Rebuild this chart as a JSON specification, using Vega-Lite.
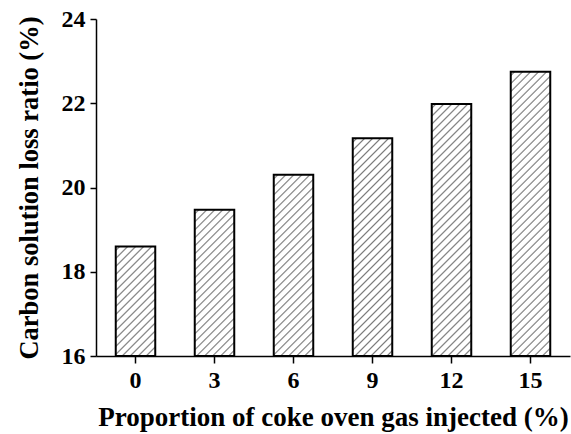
{
  "$schema": "https://vega.github.io/schema/vega-lite/v6.json",
  "autosize": "none",
  "width": 474,
  "height": 337,
  "padding": {"left": 96, "top": 19, "right": 1, "bottom": 78},
  "background": "white",
  "params": [
    {"name": "hatch", "value": [
      {"offset":0,"color":"#fff"},
      {"offset":0.006,"color":"#fff"},{"offset":0.01,"color":"#7a7a7a"},{"offset":0.014,"color":"#fff"},
      {"offset":0.026,"color":"#fff"},{"offset":0.03,"color":"#7a7a7a"},{"offset":0.034,"color":"#fff"},
      {"offset":0.046,"color":"#fff"},{"offset":0.05,"color":"#7a7a7a"},{"offset":0.054,"color":"#fff"},
      {"offset":0.066,"color":"#fff"},{"offset":0.07,"color":"#7a7a7a"},{"offset":0.074,"color":"#fff"},
      {"offset":0.086,"color":"#fff"},{"offset":0.09,"color":"#7a7a7a"},{"offset":0.094,"color":"#fff"},
      {"offset":0.106,"color":"#fff"},{"offset":0.11,"color":"#7a7a7a"},{"offset":0.114,"color":"#fff"},
      {"offset":0.126,"color":"#fff"},{"offset":0.13,"color":"#7a7a7a"},{"offset":0.134,"color":"#fff"},
      {"offset":0.146,"color":"#fff"},{"offset":0.15,"color":"#7a7a7a"},{"offset":0.154,"color":"#fff"},
      {"offset":0.166,"color":"#fff"},{"offset":0.17,"color":"#7a7a7a"},{"offset":0.174,"color":"#fff"},
      {"offset":0.186,"color":"#fff"},{"offset":0.19,"color":"#7a7a7a"},{"offset":0.194,"color":"#fff"},
      {"offset":0.206,"color":"#fff"},{"offset":0.21,"color":"#7a7a7a"},{"offset":0.214,"color":"#fff"},
      {"offset":0.226,"color":"#fff"},{"offset":0.23,"color":"#7a7a7a"},{"offset":0.234,"color":"#fff"},
      {"offset":0.246,"color":"#fff"},{"offset":0.25,"color":"#7a7a7a"},{"offset":0.254,"color":"#fff"},
      {"offset":0.266,"color":"#fff"},{"offset":0.27,"color":"#7a7a7a"},{"offset":0.274,"color":"#fff"},
      {"offset":0.286,"color":"#fff"},{"offset":0.29,"color":"#7a7a7a"},{"offset":0.294,"color":"#fff"},
      {"offset":0.306,"color":"#fff"},{"offset":0.31,"color":"#7a7a7a"},{"offset":0.314,"color":"#fff"},
      {"offset":0.326,"color":"#fff"},{"offset":0.33,"color":"#7a7a7a"},{"offset":0.334,"color":"#fff"},
      {"offset":0.346,"color":"#fff"},{"offset":0.35,"color":"#7a7a7a"},{"offset":0.354,"color":"#fff"},
      {"offset":0.366,"color":"#fff"},{"offset":0.37,"color":"#7a7a7a"},{"offset":0.374,"color":"#fff"},
      {"offset":0.386,"color":"#fff"},{"offset":0.39,"color":"#7a7a7a"},{"offset":0.394,"color":"#fff"},
      {"offset":0.406,"color":"#fff"},{"offset":0.41,"color":"#7a7a7a"},{"offset":0.414,"color":"#fff"},
      {"offset":0.426,"color":"#fff"},{"offset":0.43,"color":"#7a7a7a"},{"offset":0.434,"color":"#fff"},
      {"offset":0.446,"color":"#fff"},{"offset":0.45,"color":"#7a7a7a"},{"offset":0.454,"color":"#fff"},
      {"offset":0.466,"color":"#fff"},{"offset":0.47,"color":"#7a7a7a"},{"offset":0.474,"color":"#fff"},
      {"offset":0.486,"color":"#fff"},{"offset":0.49,"color":"#7a7a7a"},{"offset":0.494,"color":"#fff"},
      {"offset":0.506,"color":"#fff"},{"offset":0.51,"color":"#7a7a7a"},{"offset":0.514,"color":"#fff"},
      {"offset":0.526,"color":"#fff"},{"offset":0.53,"color":"#7a7a7a"},{"offset":0.534,"color":"#fff"},
      {"offset":0.546,"color":"#fff"},{"offset":0.55,"color":"#7a7a7a"},{"offset":0.554,"color":"#fff"},
      {"offset":0.566,"color":"#fff"},{"offset":0.57,"color":"#7a7a7a"},{"offset":0.574,"color":"#fff"},
      {"offset":0.586,"color":"#fff"},{"offset":0.59,"color":"#7a7a7a"},{"offset":0.594,"color":"#fff"},
      {"offset":0.606,"color":"#fff"},{"offset":0.61,"color":"#7a7a7a"},{"offset":0.614,"color":"#fff"},
      {"offset":0.626,"color":"#fff"},{"offset":0.63,"color":"#7a7a7a"},{"offset":0.634,"color":"#fff"},
      {"offset":0.646,"color":"#fff"},{"offset":0.65,"color":"#7a7a7a"},{"offset":0.654,"color":"#fff"},
      {"offset":0.666,"color":"#fff"},{"offset":0.67,"color":"#7a7a7a"},{"offset":0.674,"color":"#fff"},
      {"offset":0.686,"color":"#fff"},{"offset":0.69,"color":"#7a7a7a"},{"offset":0.694,"color":"#fff"},
      {"offset":0.706,"color":"#fff"},{"offset":0.71,"color":"#7a7a7a"},{"offset":0.714,"color":"#fff"},
      {"offset":0.726,"color":"#fff"},{"offset":0.73,"color":"#7a7a7a"},{"offset":0.734,"color":"#fff"},
      {"offset":0.746,"color":"#fff"},{"offset":0.75,"color":"#7a7a7a"},{"offset":0.754,"color":"#fff"},
      {"offset":0.766,"color":"#fff"},{"offset":0.77,"color":"#7a7a7a"},{"offset":0.774,"color":"#fff"},
      {"offset":0.786,"color":"#fff"},{"offset":0.79,"color":"#7a7a7a"},{"offset":0.794,"color":"#fff"},
      {"offset":0.806,"color":"#fff"},{"offset":0.81,"color":"#7a7a7a"},{"offset":0.814,"color":"#fff"},
      {"offset":0.826,"color":"#fff"},{"offset":0.83,"color":"#7a7a7a"},{"offset":0.834,"color":"#fff"},
      {"offset":0.846,"color":"#fff"},{"offset":0.85,"color":"#7a7a7a"},{"offset":0.854,"color":"#fff"},
      {"offset":0.866,"color":"#fff"},{"offset":0.87,"color":"#7a7a7a"},{"offset":0.874,"color":"#fff"},
      {"offset":0.886,"color":"#fff"},{"offset":0.89,"color":"#7a7a7a"},{"offset":0.894,"color":"#fff"},
      {"offset":0.906,"color":"#fff"},{"offset":0.91,"color":"#7a7a7a"},{"offset":0.914,"color":"#fff"},
      {"offset":0.926,"color":"#fff"},{"offset":0.93,"color":"#7a7a7a"},{"offset":0.934,"color":"#fff"},
      {"offset":0.946,"color":"#fff"},{"offset":0.95,"color":"#7a7a7a"},{"offset":0.954,"color":"#fff"},
      {"offset":0.966,"color":"#fff"},{"offset":0.97,"color":"#7a7a7a"},{"offset":0.974,"color":"#fff"},
      {"offset":0.986,"color":"#fff"},{"offset":0.99,"color":"#7a7a7a"},{"offset":0.994,"color":"#fff"},
      {"offset":1,"color":"#fff"}
    ]}
  ],
  "data": {"values": [
    {"proportion": 0, "ratio": 18.6},
    {"proportion": 3, "ratio": 19.47},
    {"proportion": 6, "ratio": 20.3},
    {"proportion": 9, "ratio": 21.17},
    {"proportion": 12, "ratio": 21.98},
    {"proportion": 15, "ratio": 22.75}
  ]},
  "mark": {
    "type": "bar",
    "stroke": "black",
    "strokeWidth": 2,
    "fill": {"expr": "{gradient: 'linear', x1: 0, y1: 0, x2: 400 * bandwidth('x') / (pow(bandwidth('x'), 2) + pow(scale('y', 16) - scale('y', datum.ratio), 2)), y2: 400 * (scale('y', 16) - scale('y', datum.ratio)) / (pow(bandwidth('x'), 2) + pow(scale('y', 16) - scale('y', datum.ratio), 2)), stops: hatch}"}
  },
  "encoding": {
    "x": {
      "field": "proportion",
      "type": "ordinal",
      "scale": {"paddingInner": 0.5, "paddingOuter": 0.25},
      "axis": {
        "title": "Proportion of coke oven gas injected (%)",
        "labelAngle": 0,
        "labelFont": "Liberation Serif",
        "labelFontWeight": "bold",
        "labelFontSize": 24,
        "labelColor": "black",
        "labelBaseline": "alphabetic",
        "labelPadding": 24,
        "tickSize": 7,
        "tickColor": "black",
        "tickWidth": 1.5,
        "domainColor": "black",
        "domainWidth": 1.5,
        "titleFont": "Liberation Serif",
        "titleFontWeight": "bold",
        "titleFontSize": 27,
        "titleColor": "black",
        "titleBaseline": "alphabetic",
        "titleY": 69
      }
    },
    "y": {
      "field": "ratio",
      "type": "quantitative",
      "scale": {"domain": [16, 24], "zero": false, "nice": false},
      "axis": {
        "title": "Carbon solution loss ratio (%)",
        "values": [16, 18, 20, 22, 24],
        "grid": false,
        "labelFont": "Liberation Serif",
        "labelFontWeight": "bold",
        "labelFontSize": 24,
        "labelColor": "black",
        "labelPadding": 5,
        "tickSize": 6,
        "tickColor": "black",
        "tickWidth": 1.5,
        "domainColor": "black",
        "domainWidth": 1.5,
        "titleFont": "Liberation Serif",
        "titleFontWeight": "bold",
        "titleFontSize": 26.5,
        "titleColor": "black",
        "titleBaseline": "middle",
        "titleX": -67
      }
    },
    "y2": {"datum": 16}
  },
  "config": {"view": {"stroke": null}}
}
